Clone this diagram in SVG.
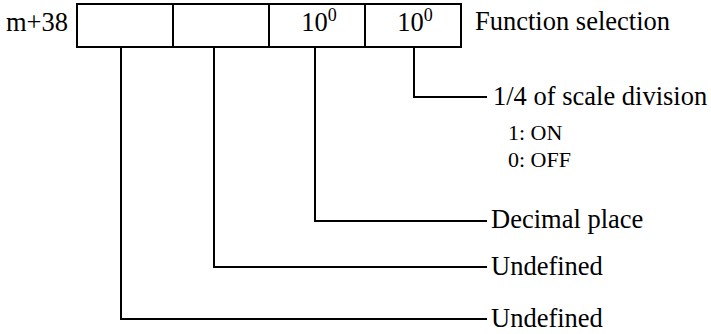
<svg xmlns="http://www.w3.org/2000/svg" width="711" height="334" viewBox="0 0 711 334">
<style>
text{font-family:"Liberation Serif","Times New Roman",serif;fill:#000}
.t{font-size:26.5px}
.s{font-size:22px}
.sup{font-size:18px}
.ln{fill:none;stroke:#000;stroke-width:2}
</style>
<rect width="711" height="334" fill="#fff"/>
<g id="register">
<text class="t" x="6" y="31">m+38</text>
<rect class="ln" x="77" y="4" width="384" height="43"/>
<line class="ln" x1="173" y1="4" x2="173" y2="47"/>
<line class="ln" x1="269" y1="4" x2="269" y2="47"/>
<line class="ln" x1="365" y1="4" x2="365" y2="47"/>
<text class="t" x="319" y="31" text-anchor="middle">10<tspan class="sup" dy="-10">0</tspan></text>
<text class="t" x="415" y="31" text-anchor="middle">10<tspan class="sup" dy="-10">0</tspan></text>
<text class="t" x="475" y="30">Function selection</text>
</g>
<g id="connectors">
<polyline class="ln" points="414,47 414,97 487,97"/>
<polyline class="ln" points="315,47 315,221 487,221"/>
<polyline class="ln" points="214,47 214,267 487,267"/>
<polyline class="ln" points="121,47 121,319 487,319"/>
</g>
<g id="label-quarter">
<text class="t" x="493" y="105">1/4 of scale division</text>
<text class="s" x="508" y="140">1: ON</text>
<text class="s" x="508" y="167">0: OFF</text>
</g>
<g id="label-decimal"><text class="t" x="491" y="228">Decimal place</text></g>
<g id="label-undef1"><text class="t" x="491" y="275">Undefined</text></g>
<g id="label-undef2"><text class="t" x="491" y="327">Undefined</text></g>
</svg>
